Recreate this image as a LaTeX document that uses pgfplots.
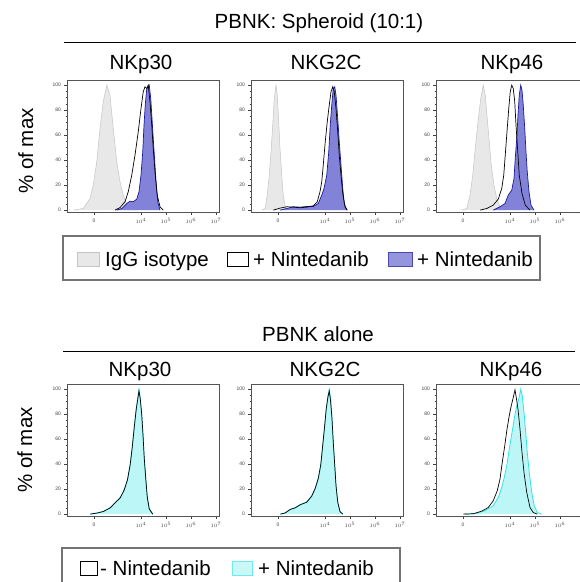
\documentclass[border=0pt]{standalone}
\usepackage{fontspec}
\setmainfont{Liberation Sans}
\usepackage{pgfplots}
\usepackage{pgfplotstable}
\pgfplotsset{compat=1.18}

\definecolor{isofill}{HTML}{E8E8E8}
\definecolor{isoedge}{HTML}{C4C4C4}
\definecolor{nfill}{HTML}{8282D8}
\definecolor{nedge}{HTML}{1A1A9C}
\definecolor{cfill}{HTML}{BDF6F6}
\definecolor{cedge}{HTML}{33E3E3}
\definecolor{framec}{HTML}{555555}

% ---- spheroid row ----
\pgfplotstableread{
x y
1.29 0
1.69 1.3
1.96 9.3
2.09 20
2.23 38.7
2.36 65.3
2.49 86.7
2.63 100
2.76 92
2.89 65.3
3.03 38.7
3.16 22.7
3.29 12
3.43 4
3.63 0.5
3.83 0
}\isoA
\pgfplotstableread{
x y
2.96 0
3.16 2
3.36 6.7
3.49 14.7
3.63 28
3.76 44
3.89 62.7
4.00 81.3
4.09 94.7
4.16 98.7
4.23 97.3
4.29 100
4.36 86.7
4.43 68
4.49 49.3
4.56 30.7
4.65 12
4.76 2.7
4.89 0
}\blkA
\pgfplotstableread{
x y
3.03 0
3.23 1.3
3.43 5.3
3.56 7.2
3.69 6.7
3.83 8.8
3.92 14.7
4.00 28
4.07 46.7
4.12 68
4.17 84
4.23 97.3
4.28 98.7
4.33 100
4.39 89.3
4.44 73.3
4.49 57.3
4.55 38.7
4.60 22.7
4.67 6.7
4.76 0
}\bluA
\pgfplotstableread{
x y
1.47 0
1.60 1.3
1.69 12
1.77 28
1.84 46.7
1.91 68
1.96 86.7
2.04 100
2.09 92
2.15 70.7
2.20 49.3
2.27 28
2.33 12
2.41 2.7
2.53 0
}\isoB
\pgfplotstableread{
x y
1.93 0
2.20 1.6
2.47 2.7
2.73 2.4
3.00 1.9
3.27 2.4
3.53 3.5
3.69 6.7
3.80 14.7
3.87 22.7
3.93 36
4.01 54.7
4.09 70.7
4.17 84
4.24 94.7
4.31 98.7
4.37 94.7
4.44 81.3
4.51 62.7
4.57 44
4.64 28
4.71 13.3
4.80 2.7
4.89 0
}\blkB
\pgfplotstableread{
x y
2.20 0
2.47 1.3
2.73 2.7
3.00 2.4
3.27 2.9
3.53 2.9
3.73 5.3
3.87 12
3.96 17.3
4.07 28
4.15 46.7
4.21 68
4.27 84
4.33 97.3
4.39 98.7
4.44 92
4.51 73.3
4.57 54.7
4.64 36
4.71 17.3
4.77 5.3
4.87 0
}\bluB
\pgfplotstableread{
x y
2.07 0
2.27 1.3
2.40 12
2.51 28
2.61 49.3
2.72 70.7
2.83 89.3
2.93 100
3.01 92
3.09 73.3
3.17 54.7
3.25 36
3.36 20
3.47 9.3
3.60 2.7
3.80 0
}\isoC
\pgfplotstableread{
x y
2.80 0
3.07 1.3
3.33 4
3.53 8.8
3.67 17.3
3.75 28
3.81 44
3.88 62.7
3.95 81.3
4.01 94.7
4.07 100
4.13 97.3
4.19 86.7
4.24 68
4.31 46.7
4.37 28
4.48 13.3
4.61 4
4.80 0
}\blkC
\pgfplotstableread{
x y
3.33 0
3.60 2.7
3.80 5.3
3.93 12
4.07 16
4.16 25.3
4.21 41.3
4.27 57.3
4.32 76
4.37 92
4.43 100
4.48 96
4.53 84
4.59 65.3
4.64 46.7
4.69 30.7
4.76 14.7
4.84 4
4.96 0
}\bluC

% ---- PBNK alone row ----
\pgfplotstableread{
x y
1.96 0
2.23 0.8
2.49 1.9
2.76 5.3
2.96 8.8
3.16 13.3
3.32 18.7
3.45 26.7
3.56 38.7
3.64 52
3.72 68
3.80 82.7
3.87 93.3
3.92 100
3.97 92
4.03 78.7
4.08 62.7
4.13 44
4.19 28
4.25 13.3
4.33 4
4.47 0
}\cynD
\pgfplotstableread{
x y
1.98 0
2.25 0.9
2.50 2.2
2.77 5.0
2.97 9.2
3.17 13.0
3.33 19.5
3.46 27.5
3.57 40.0
3.65 53.5
3.73 69.5
3.81 84.0
3.87 92.0
3.92 98.5
3.97 92.5
4.03 79.5
4.08 63.5
4.13 45.0
4.19 28.5
4.25 13.8
4.33 4.2
4.47 0
}\blkD
\pgfplotstableread{
x y
2.20 0
2.40 0.8
2.60 3.5
2.80 5.3
3.00 7.2
3.27 9.9
3.47 14.1
3.61 20
3.73 28
3.83 38.7
3.91 54.7
3.99 70.7
4.05 84
4.12 94.7
4.17 100
4.23 92
4.28 76
4.33 57.3
4.39 38.7
4.44 22.7
4.51 9.3
4.60 1.9
4.71 0
}\cynE
\pgfplotstableread{
x y
2.22 0
2.41 1.0
2.61 3.8
2.81 5.0
3.01 7.6
3.27 9.5
3.47 14.6
3.61 20.8
3.73 28.5
3.83 39.5
3.91 55.5
3.99 71.5
4.05 84.5
4.12 94.0
4.17 98.5
4.22 91.0
4.28 76.5
4.33 57.8
4.39 39.0
4.44 23.0
4.51 9.6
4.60 2.0
4.71 0
}\blkE
\pgfplotstableread{
x y
2.20 0
2.60 0.3
3.00 2.7
3.33 6.7
3.53 13.3
3.67 21.3
3.77 29.3
3.87 38.7
3.97 52
4.08 65.3
4.19 78.7
4.27 86.7
4.35 92
4.43 100
4.49 94.7
4.56 81.3
4.63 65.3
4.69 49.3
4.77 33.3
4.87 17.3
4.97 6.7
5.09 1.3
5.27 0
}\cynF
\pgfplotstableread{
x y
2.13 0
2.53 0.3
2.87 2.4
3.13 5.3
3.33 10.7
3.49 18.7
3.60 28
3.69 41.3
3.79 54.7
3.88 68
3.97 78.7
4.05 86.7
4.13 93.3
4.20 99.5
4.25 93.3
4.32 84
4.40 68
4.48 49.3
4.56 33.3
4.67 17.3
4.80 5.3
4.93 1.3
5.09 0
}\blkF

\pgfplotsset{
  facs/.style={
    width=152pt, height=132pt, scale only axis,
    anchor=north west,
    xmin=1.04, xmax=7.12, ymin=-1.5, ymax=104.1,
    axis line style={draw=framec, line width=0.7pt},
    tick align=outside, xtick pos=lower, ytick pos=left,
    ytick={0,20,...,100}, minor y tick num=3,
    xtick={2.12,4,5,6,7},
    xticklabels={0,$10^4$,$10^5$,$10^6$,$10^7$},
    minor xtick={1.30,1.45,1.58,1.70,1.80,1.88,1.95,2.01,2.06,2.18,2.23,2.29,2.36,2.45,2.57,2.74,3.0,
      3.301,3.477,3.602,3.699,3.778,3.845,3.903,3.954,
      4.301,4.477,4.602,4.699,4.778,4.845,4.903,4.954,
      5.301,5.477,5.602,5.699,5.778,5.845,5.903,5.954,
      6.301,6.477,6.602,6.699,6.778,6.845,6.903,6.954},
    major tick length=2.6pt, minor tick length=1.4pt,
    tick style={draw=black!75, line width=0.5pt},
    minor tick style={draw=black!75, line width=0.4pt},
    tick label style={font=\fontsize{5}{6}\selectfont, text=black!75},
    xticklabel style={yshift=-0.5pt},
    /pgf/number format/assume math mode=true,
  },
  isoplot/.style={fill=isofill, draw=none},
  isoline/.style={draw=isoedge, line width=0.5pt, no marks},
  bluplot/.style={fill=nfill, draw=none},
  bluline/.style={draw=nedge, line width=0.7pt, no marks},
  cynplot/.style={fill=cfill, draw=none},
  cynline/.style={draw=cedge, line width=0.8pt, no marks},
  blkline/.style={draw=black, line width=0.7pt, no marks},
}

\tikzset{big/.style={font=\fontsize{20.5}{24}\selectfont, inner sep=0pt, anchor=base}}

\begin{document}
\begin{tikzpicture}
\path[use as bounding box] (0,0) rectangle (580pt,-582pt);
\clip (0,0) rectangle (580pt,-582pt);

% titles, spheroid row
\node[big] at (319pt,-28.5pt) {PBNK: Spheroid (10:1)};
\draw[black, line width=0.8pt] (64pt,-42pt) -- (576pt,-42pt);
\node[big] at (141pt,-69pt) {NKp30};
\node[big] at (326pt,-69pt) {NKG2C};
\node[big] at (512pt,-69pt) {NKp46};
\node[big, rotate=90] at (33pt,-151pt) {\% of max};

% titles, alone row
\node[big] at (318pt,-341.5pt) {PBNK alone};
\draw[black, line width=0.8pt] (63pt,-351pt) -- (575pt,-351pt);
\node[big] at (140pt,-376pt) {NKp30};
\node[big] at (325pt,-376pt) {NKG2C};
\node[big] at (511pt,-376pt) {NKp46};
\node[big, rotate=90] at (32pt,-450pt) {\% of max};

% spheroid row panels
\begin{axis}[facs, at={(67pt,-80pt)}]
\addplot[isoplot] table {\isoA} \closedcycle;
\addplot[isoline] table {\isoA};
\addplot[bluplot] table {\bluA} \closedcycle;
\addplot[bluline] table {\bluA};
\addplot[blkline] table {\blkA};
\end{axis}
\begin{axis}[facs, at={(251pt,-80pt)}]
\addplot[isoplot] table {\isoB} \closedcycle;
\addplot[isoline] table {\isoB};
\addplot[bluplot] table {\bluB} \closedcycle;
\addplot[bluline] table {\bluB};
\addplot[blkline] table {\blkB};
\end{axis}
\begin{axis}[facs, at={(436pt,-80pt)}]
\addplot[isoplot] table {\isoC} \closedcycle;
\addplot[isoline] table {\isoC};
\addplot[bluplot] table {\bluC} \closedcycle;
\addplot[bluline] table {\bluC};
\addplot[blkline] table {\blkC};
\end{axis}

% alone row panels
\begin{axis}[facs, at={(67pt,-384pt)}]
\addplot[cynplot] table {\cynD} \closedcycle;
\addplot[cynline] table {\cynD};
\addplot[blkline] table {\blkD};
\end{axis}
\begin{axis}[facs, at={(251pt,-384pt)}]
\addplot[cynplot] table {\cynE} \closedcycle;
\addplot[cynline] table {\cynE};
\addplot[blkline] table {\blkE};
\end{axis}
\begin{axis}[facs, at={(436pt,-384pt)}]
\addplot[cynplot] table {\cynF} \closedcycle;
\addplot[cynline] table {\cynF};
\addplot[blkline] table {\blkF};
\end{axis}

% legend, spheroid row
\draw[black!55, line width=1.2pt] (63pt,-236pt) rectangle (540pt,-280pt);
\draw[isoedge, fill=isofill, line width=0.6pt] (77pt,-252pt) rectangle (99pt,-266pt);
\node[big, anchor=base west] at (105pt,-266pt) {IgG isotype};
\draw[black, fill=white, line width=0.8pt] (227pt,-252pt) rectangle (248pt,-266pt);
\node[big, anchor=base west] at (253pt,-266pt) {+ Nintedanib};
\draw[nedge!80, fill=nfill!85, line width=0.8pt] (388pt,-252pt) rectangle (412pt,-266pt);
\node[big, anchor=base west] at (417pt,-266pt) {+ Nintedanib};

% legend, alone row
\draw[black!55, line width=1.2pt] (62pt,-548pt) rectangle (400pt,-600pt);
\draw[black, fill=white, line width=0.8pt] (80pt,-561pt) rectangle (97pt,-575pt);
\node[big, anchor=base west] at (100pt,-575pt) {- Nintedanib};
\draw[cedge!70, fill=cfill!80, line width=0.8pt] (232pt,-561pt) rectangle (252pt,-575pt);
\node[big, anchor=base west] at (258pt,-575pt) {+ Nintedanib};
\end{tikzpicture}
\end{document}
